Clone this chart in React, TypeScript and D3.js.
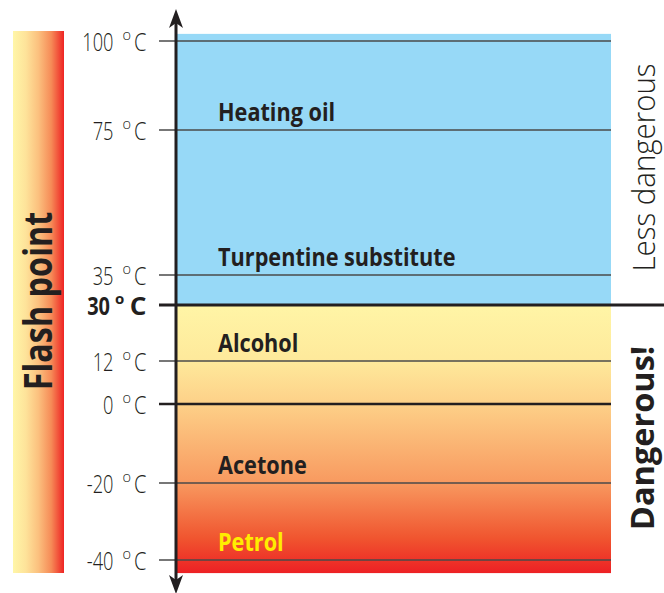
import React from "react";
import { scaleLinear } from "d3";

const tickValues = [100, 75, 35, 30, 12, 0, -20, -40];
const substances = ["Heating oil", "Turpentine substitute", "Alcohol", "Acetone", "Petrol"];
const flashPoints = [75, 35, 12, -20, -40];
const threshold = 30;
const topValue = 102;
const bottomValue = -43.4;

const W = 664;
const H = 593;
const axisX = 176;
const plotRight = 611;
const ink = "#231f20";
const font = "'Open Sans', 'Noto Sans', sans-serif";

// the printed scale is not quite linear, so map each tick where it sits
const yScale = scaleLinear()
  .domain([-40, -20, 0, 12, 30, 35, 75, 100])
  .range([560, 483, 404, 361, 305, 275, 130, 41]);

// the original type is a condensed face, so squeeze Open Sans a bit
const DegLabel = ({ v, y, bold }) => {
  const w = bold ? 700 : 300;
  return (
    <g transform={`translate(0,${y})`} fontFamily={font} fill={ink} fontWeight={w}>
      <text
        transform={`translate(${bold ? 110 : 113.5},9.5) scale(${bold ? 0.8 : 0.73},1)`}
        textAnchor="end"
        fontSize={25}
      >
        {v}
      </text>
      <text x={bold ? 115 : 122.5} y={-0.8} fontSize={bold ? 15 : 14.5}>
        o
      </text>
      <text
        transform={`translate(146.5,9.5) scale(${bold ? 1.05 : 0.8},1)`}
        textAnchor="end"
        fontSize={25}
      >
        C
      </text>
    </g>
  );
};

export default function App() {
  const yTop = yScale(topValue);
  const yT = yScale(threshold);
  const yBottom = yScale(bottomValue);
  return (
    <svg
      width={W}
      height={H}
      style={{ position: "absolute", left: 0, top: 0, background: "#fff" }}
    >
      <defs>
        <linearGradient id="sideBar" x1="0" x2="1" y1="0" y2="0">
          <stop offset="0" stopColor="#fff6a8" />
          <stop offset="0.25" stopColor="#fee39a" />
          <stop offset="0.5" stopColor="#fbc07e" />
          <stop offset="0.75" stopColor="#f68b57" />
          <stop offset="1" stopColor="#ee2424" />
        </linearGradient>
        <linearGradient id="danger" x1="0" x2="0" y1="0" y2="1">
          <stop offset="0" stopColor="#fff5a6" />
          <stop offset="0.21" stopColor="#fee99b" />
          <stop offset="0.37" stopColor="#fdd088" />
          <stop offset="0.66" stopColor="#f89a60" />
          <stop offset="0.87" stopColor="#f0552f" />
          <stop offset="1" stopColor="#ed2024" />
        </linearGradient>
      </defs>

      {/* flash point side bar */}
      <rect x={13} y={31} width={51} height={542} fill="url(#sideBar)" />
      <text
        transform={`translate(52,301) rotate(-90) scale(0.83,1)`}
        textAnchor="middle"
        fontFamily={font}
        fontWeight={700}
        fontSize={39}
        fill={ink}
      >
        Flash point
      </text>

      {/* zones */}
      <rect x={axisX} y={yTop} width={plotRight - axisX} height={yT - yTop} fill="#97d9f7" />
      <rect x={axisX} y={yT} width={plotRight - axisX} height={yBottom - yT} fill="url(#danger)" />

      {/* tick lines */}
      {tickValues.map((v) => {
        const y = yScale(v);
        const heavy = v === threshold;
        return (
          <line
            key={v}
            x1={159}
            x2={heavy ? W : plotRight}
            y1={y}
            y2={y}
            stroke={v === 0 || heavy ? ink : "#4a4a4a"}
            strokeWidth={heavy ? 3 : v === 0 ? 2.5 : 1.5}
          />
        );
      })}

      {tickValues.map((v) => (
        <DegLabel key={v} v={v} y={yScale(v)} bold={v === threshold} />
      ))}

      {/* axis with arrows */}
      <line x1={axisX} x2={axisX} y1={18} y2={585} stroke={ink} strokeWidth={3} />
      <path d={`M${axisX},9 L${axisX + 7},28 L${axisX},23 L${axisX - 7},28 Z`} fill={ink} />
      <path d={`M${axisX},594 L${axisX + 7},575 L${axisX},580 L${axisX - 7},575 Z`} fill={ink} />

      {/* substances */}
      {substances.map((s, i) => (
        <text
          key={s}
          transform={`translate(218,${yScale(flashPoints[i]) - 9}) scale(0.85,1)`}
          fontFamily={font}
          fontWeight={700}
          fontSize={25.5}
          fill={flashPoints[i] === -40 ? "#ffed00" : ink}
        >
          {s}
        </text>
      ))}

      <text
        transform={`translate(655,167.5) rotate(-90) scale(0.95,1)`}
        textAnchor="middle"
        fontFamily={font}
        fontWeight={300}
        fontSize={31}
        fill={ink}
      >
        Less dangerous
      </text>
      <text
        transform={`translate(654,438) rotate(-90)`}
        textAnchor="middle"
        fontFamily={font}
        fontWeight={700}
        fontSize={32.5}
        fill={ink}
      >
        Dangerous!
      </text>
    </svg>
  );
}
